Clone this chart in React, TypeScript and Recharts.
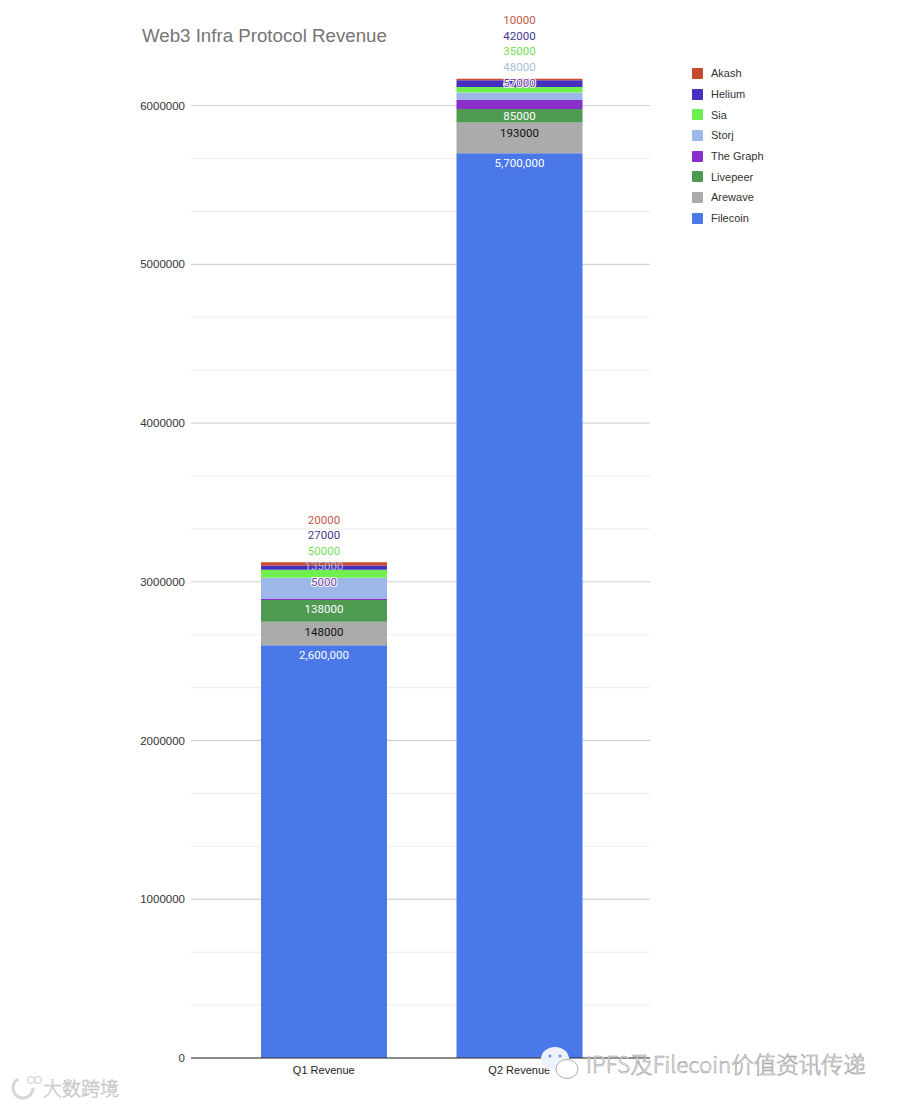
import React from 'react';
import { BarChart, Bar, XAxis, YAxis, CartesianGrid, Legend, LabelList } from 'recharts';

const quarters = ['Q1 Revenue', 'Q2 Revenue'];

const filecoin = [2600000, 5700000];
const arewave = [148000, 193000];
const livepeer = [138000, 85000];
const theGraph = [5000, 57000];
const storj = [135000, 48000];
const sia = [50000, 35000];
const helium = [27000, 42000];
const akash = [20000, 10000];

const majorTicks = [0, 1000000, 2000000, 3000000, 4000000, 5000000, 6000000];
const minorTicks = [
  333333, 666667, 1333333, 1666667, 2333333, 2666667, 3333333, 3666667, 4333333, 4666667, 5333333, 5666667,
];

const chartData = quarters.map((name, i) => ({
  name,
  Filecoin: filecoin[i],
  Arewave: arewave[i],
  Livepeer: livepeer[i],
  'The Graph': theGraph[i],
  Storj: storj[i],
  Sia: sia[i],
  Helium: helium[i],
  Akash: akash[i],
}));

// bottom to top, same order as the stack
const seriesStyles = [
  { key: 'Filecoin', color: '#4a78e8', text: '#ffffff', lift: [10, 10], halo: false },
  { key: 'Arewave', color: '#ababab', text: '#111111', lift: [10, 10], halo: false },
  { key: 'Livepeer', color: '#4e9a51', text: '#ffffff', lift: [9, 7], halo: false },
  { key: 'The Graph', color: '#8a2fca', text: '#6f3f9c', lift: [-17, -17], halo: true },
  { key: 'Storj', color: '#9db8e8', text: '#a9bbdd', lift: [-12, -25], halo: false },
  { key: 'Sia', color: '#6ff04f', text: '#74e05a', lift: [-19, -36], halo: false },
  { key: 'Helium', color: '#4730c0', text: '#47398f', lift: [-30, -44], halo: false },
  { key: 'Akash', color: '#c9492f', text: '#bf5a4a', lift: [-42, -59], halo: false },
];

const FONT = '"Liberation Sans", Arial, sans-serif';

const renderLegend = () => (
  <div style={{ fontFamily: FONT, fontSize: 11, color: '#333' }}>
    {[...seriesStyles].reverse().map(s => (
      <div key={s.key} style={{ display: 'flex', alignItems: 'center', height: 20.7 }}>
        <span style={{ width: 11, height: 11, background: s.color, borderRadius: 1, marginRight: 8 }} />
        {s.key}
      </div>
    ))}
  </div>
);

const segmentLabel = (s: (typeof seriesStyles)[number]) => (props: any) => {
  const { x, y, width, value, index } = props;
  const text = s.key === 'Filecoin' ? Number(value).toLocaleString('en-US') : String(value);
  return (
    <text
      x={x + width / 2}
      y={y + s.lift[index]}
      dy="0.35em"
      textAnchor="middle"
      fontFamily={'Roboto, ' + FONT}
      fontSize={11.5}
      fill={s.text}
      stroke={s.halo ? '#ffffff' : 'none'}
      strokeWidth={s.halo ? 2 : 0}
      paintOrder="stroke"
    >
      {text}
    </text>
  );
};

const watermark = {
  position: 'absolute',
  fontFamily: '"Noto Sans CJK SC", "Noto Sans", sans-serif',
  fontWeight: 300,
  color: '#ffffff',
  WebkitTextStroke: '0.6px #9a9a9a',
  whiteSpace: 'nowrap',
} as React.CSSProperties;

export default function App() {
  return (
    <div style={{ position: 'absolute', left: 0, top: 0, width: 900, height: 1104, background: '#fff', overflow: 'hidden' }}>
      <div style={{ position: 'absolute', left: 142, top: 25, fontFamily: FONT, fontSize: 18.7, color: '#757575' }}>
        Web3 Infra Protocol Revenue
      </div>
      <BarChart
        width={900}
        height={1104}
        data={chartData}
        margin={{ top: 58, right: 42, bottom: 16, left: 0 }}
        barCategoryGap={0}
      >
        <CartesianGrid vertical={false} stroke="#ececec" horizontalValues={minorTicks} />
        <CartesianGrid vertical={false} stroke="#cccccc" horizontalValues={majorTicks} />
        <XAxis
          dataKey="name"
          height={30}
          padding={{ left: 35, right: 33 }}
          tickLine={false}
          axisLine={{ stroke: '#333333' }}
          tick={{ fill: '#222222', fontSize: 11, fontFamily: FONT }}
        />
        <YAxis
          width={191}
          domain={[0, 6300000]}
          ticks={majorTicks}
          allowDataOverflow
          axisLine={false}
          tickLine={false}
          tickMargin={0}
          tick={{ fill: '#333333', fontSize: 11.5, fontFamily: FONT }}
        />
        <Legend
          layout="vertical"
          align="right"
          verticalAlign="top"
          width={208}
          content={renderLegend}
          wrapperStyle={{ top: 63, right: 0 }}
        />
        {seriesStyles.map(s => (
          <Bar key={s.key} dataKey={s.key} stackId="revenue" fill={s.color} barSize={126} isAnimationActive={false}>
            <LabelList dataKey={s.key} content={segmentLabel(s)} />
          </Bar>
        ))}
      </BarChart>
      {/* watermarks stamped over the screenshot */}
      <svg width={900} height={1104} style={{ position: 'absolute', left: 0, top: 0 }}>
        <ellipse cx={555} cy={1059} rx={14} ry={12} fill="#eef2fb" />
        <circle cx={550} cy={1056} r={1.5} fill="#6f8fd8" />
        <circle cx={560} cy={1056} r={1.5} fill="#6f8fd8" />
        <ellipse cx={567} cy={1069} rx={11} ry={9.5} fill="#ffffff" stroke="#8a8a8a" strokeWidth={0.7} />
        <circle cx={23} cy={1088} r={10} fill="none" stroke="#d8d8d8" strokeWidth={3} strokeDasharray="42 20" />
        <circle cx={31} cy={1080} r={3.5} fill="#fff" stroke="#c8c8c8" strokeWidth={1} />
        <circle cx={38} cy={1080} r={3.5} fill="#fff" stroke="#c8c8c8" strokeWidth={1} />
      </svg>
      <div style={{ ...watermark, left: 586, top: 1047, fontSize: 22.4 }}>IPFS及Filecoin价值资讯传递</div>
      <div style={{ ...watermark, left: 43, top: 1074, fontSize: 19, WebkitTextStroke: '0.6px #c0c0c0' }}>大数跨境</div>
    </div>
  );
}
